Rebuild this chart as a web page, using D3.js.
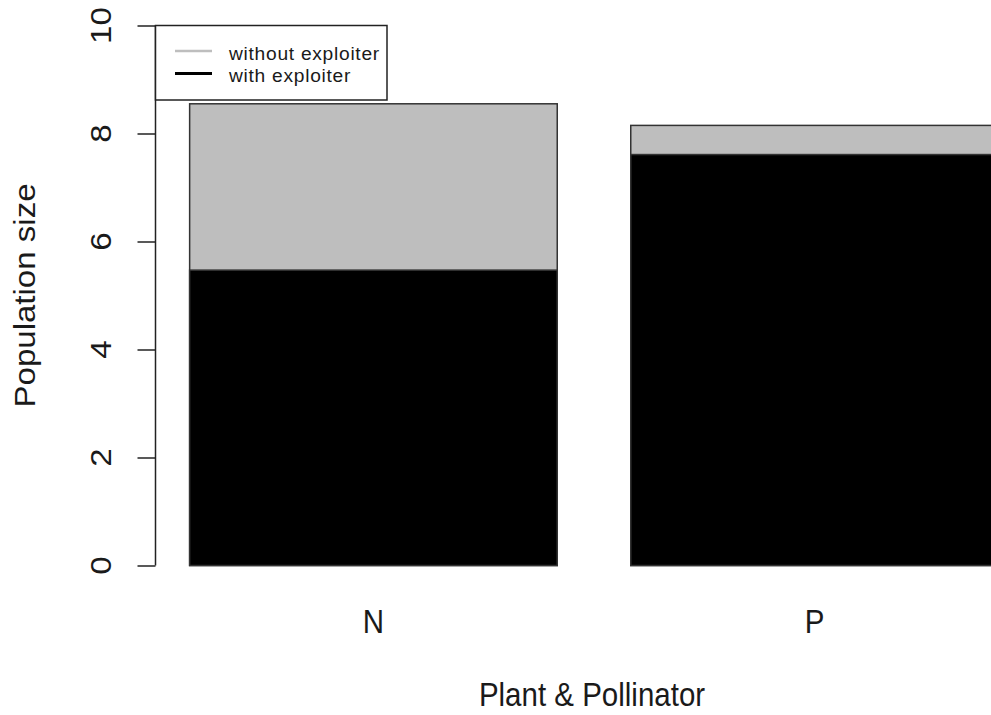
<!DOCTYPE html>
<html>
<head>
<meta charset="utf-8">
<script src="https://cdn.jsdelivr.net/npm/d3@7"></script>
<style>
  html, body { margin: 0; padding: 0; background: #fff; overflow: hidden; }
  svg { display: block; }
  text { font-family: "Liberation Sans", Arial, sans-serif; fill: #1a1a1a; }
</style>
</head>
<body>
<script>
// values
const categories = ['N', 'P'];
const withoutExploiter = [8.55, 8.15];
const withExploiter = [5.47, 7.61];
const yTicks = [0, 2, 4, 6, 8, 10];
const legendLabels = ['without exploiter', 'with exploiter'];
const legendColors = ['#bebebe', '#000000'];

const width = 991;
const height = 715;
// the source picture is stretched a little vertically
const stretchY = 1.12;
const fontSize = 29.5;

const svg = d3.select('body').append('svg')
  .attr('xmlns', 'http://www.w3.org/2000/svg')
  .attr('width', width)
  .attr('height', height)
  .attr('viewBox', `0 0 ${width} ${height}`);

// plot region runs past the right edge, as in the reference
const x = d3.scaleBand()
  .domain(categories)
  .range([157, 1031])
  .paddingInner(1 / 6)
  .paddingOuter(0.074);

const y = d3.scaleLinear()
  .domain([0, 10])
  .range([565.5, 25.5]);

// bars: full height in grey, exploiter part in black on top
const bars = svg.append('g');

bars.selectAll('.bar-without')
  .data(categories)
  .enter()
  .append('rect')
  .attr('class', 'bar-without')
  .attr('x', d => x(d))
  .attr('width', x.bandwidth())
  .attr('y', (d, i) => y(withoutExploiter[i]))
  .attr('height', (d, i) => y(0) - y(withoutExploiter[i]))
  .attr('fill', legendColors[0])
  .attr('stroke', '#333')
  .attr('stroke-width', 1.5);

bars.selectAll('.bar-with')
  .data(categories)
  .enter()
  .append('rect')
  .attr('class', 'bar-with')
  .attr('x', d => x(d))
  .attr('width', x.bandwidth())
  .attr('y', (d, i) => y(withExploiter[i]))
  .attr('height', (d, i) => y(0) - y(withExploiter[i]))
  .attr('fill', legendColors[1])
  .attr('stroke', '#333')
  .attr('stroke-width', 1.5);

// y axis, R style: line from first to last tick, ticks pointing left
const axisX = 155.5;
const yAxis = d3.axisLeft(y)
  .tickValues(yTicks)
  .tickSize(18)
  .tickSizeOuter(0)
  .tickFormat('');

const axisG = svg.append('g')
  .attr('transform', `translate(${axisX},0)`)
  .call(yAxis);
axisG.select('.domain')
  .attr('d', `M0,${y(0)}V${y(10)}`)
  .attr('stroke', '#222')
  .attr('stroke-width', 1.5);
axisG.selectAll('.tick line')
  .attr('stroke', '#222')
  .attr('stroke-width', 1.5);

// rotated tick labels
svg.append('g').selectAll('text')
  .data(yTicks)
  .enter()
  .append('text')
  .attr('transform', d => `translate(111,${y(d)}) scale(1,${stretchY}) rotate(-90)`)
  .attr('text-anchor', 'middle')
  .attr('font-size', fontSize)
  .text(d => d);

// category labels
svg.append('g').selectAll('text')
  .data(categories)
  .enter()
  .append('text')
  .attr('transform', d => `translate(${x(d) + x.bandwidth() / 2},633) scale(1,${stretchY})`)
  .attr('text-anchor', 'middle')
  .attr('font-size', fontSize)
  .text(d => d);

// axis titles
const xMid = (x.range()[0] + x.range()[1]) / 2;
svg.append('text')
  .attr('transform', `translate(${xMid - 2},706) scale(1,${stretchY})`)
  .attr('text-anchor', 'middle')
  .attr('font-size', fontSize)
  .text('Plant & Pollinator');

svg.append('text')
  .attr('transform', `translate(35,${(y(0) + y(10)) / 2}) scale(1,${stretchY}) rotate(-90)`)
  .attr('text-anchor', 'middle')
  .attr('font-size', fontSize)
  .text('Population size');

// legend box in the top left corner
const legend = svg.append('g');
legend.append('rect')
  .attr('x', 155.5)
  .attr('y', 25.5)
  .attr('width', 231.5)
  .attr('height', 74.5)
  .attr('fill', '#fff')
  .attr('stroke', '#222')
  .attr('stroke-width', 1.5);

const rows = legend.selectAll('.row')
  .data(legendLabels)
  .enter()
  .append('g')
  .attr('class', 'row')
  .attr('transform', (d, i) => `translate(0,${51 + i * 22.5})`);

rows.append('line')
  .attr('x1', 175)
  .attr('x2', 212)
  .attr('stroke', (d, i) => legendColors[i])
  .attr('stroke-width', (d, i) => i === 0 ? 2.5 : 3);

rows.append('text')
  .attr('transform', `translate(229,8.5) scale(1.2,${stretchY})`)
  .attr('font-size', 16)
  .attr('letter-spacing', 0.6)
  .text(d => d);
</script>
</body>
</html>
